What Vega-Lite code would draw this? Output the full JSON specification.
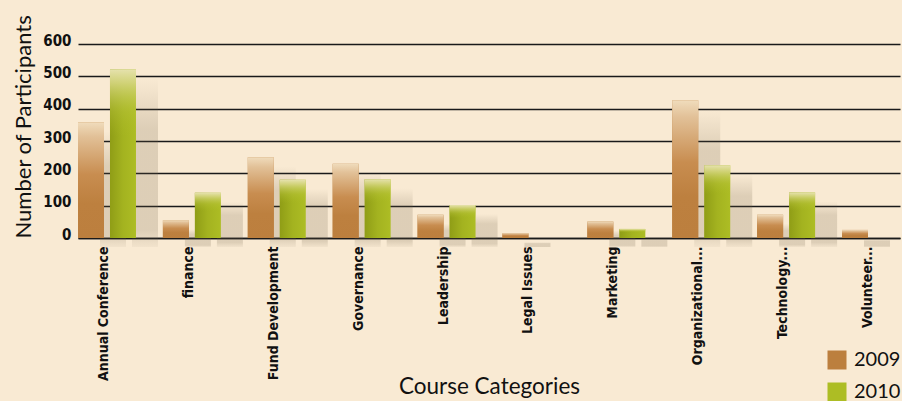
{
  "$schema": "https://vega.github.io/schema/vega-lite/v6.json",
  "autosize": {"type": "none"},
  "padding": {"left": 78, "top": 44, "right": 2, "bottom": 163},
  "width": 822,
  "height": 194,
  "background": "#f9ead3",
  "config": {"view": {"stroke": null}, "font": "Lato"},
  "data": {
    "values": [
      {"category": "Annual Conference", "year": "2009", "value": 358},
      {"category": "Annual Conference", "year": "2010", "value": 522},
      {"category": "finance", "year": "2009", "value": 55},
      {"category": "finance", "year": "2010", "value": 140},
      {"category": "Fund Development", "year": "2009", "value": 250},
      {"category": "Fund Development", "year": "2010", "value": 180},
      {"category": "Governance", "year": "2009", "value": 230},
      {"category": "Governance", "year": "2010", "value": 182},
      {"category": "Leadership", "year": "2009", "value": 72},
      {"category": "Leadership", "year": "2010", "value": 102},
      {"category": "Legal Issues", "year": "2009", "value": 15},
      {"category": "Legal Issues", "year": "2010", "value": 0},
      {"category": "Marketing", "year": "2009", "value": 51},
      {"category": "Marketing", "year": "2010", "value": 28},
      {"category": "Organizational...", "year": "2009", "value": 426},
      {"category": "Organizational...", "year": "2010", "value": 225},
      {"category": "Technology...", "year": "2009", "value": 72},
      {"category": "Technology...", "year": "2010", "value": 141},
      {"category": "Volunteer...", "year": "2009", "value": 25},
      {"category": "Volunteer...", "year": "2010", "value": 0}
    ]
  },
  "encoding": {
    "x": {
      "field": "category",
      "type": "nominal",
      "sort": null,
      "scale": {"paddingInner": 0.317, "paddingOuter": 0},
      "axis": {
        "title": "Course Categories",
        "labelAngle": -90,
        "labelAlign": "right",
        "labelBaseline": "middle",
        "labelFont": "'DejaVu Sans Condensed', 'Liberation Sans Narrow', sans-serif",
        "labelFontWeight": "bold",
        "labelFontSize": 14,
        "labelColor": "#111111",
        "labelPadding": 8,
        "labelOffset": -3,
        "labelLimit": 300,
        "ticks": false,
        "tickSize": 0,
        "domainColor": "#1a1a1a",
        "domainWidth": 1.5,
        "titleFont": "Lato",
        "titleFontWeight": "normal",
        "titleFontSize": 22.5,
        "titleColor": "#111111",
        "titleY": 155,
        "titleBaseline": "alphabetic"
      }
    },
    "xOffset": {
      "field": "year",
      "type": "nominal",
      "scale": {"domain": ["2009", "2010"], "paddingInner": 0.1875, "paddingOuter": 0}
    },
    "y": {
      "field": "value",
      "type": "quantitative",
      "scale": {"domain": [0, 600], "nice": false},
      "axis": {
        "title": "Number of Participants",
        "values": [0, 100, 200, 300, 400, 500, 600],
        "grid": true,
        "gridColor": "#1a1a1a",
        "gridWidth": 1.5,
        "domain": false,
        "ticks": false,
        "labelFont": "'DejaVu Sans Condensed', 'Liberation Sans Narrow', sans-serif",
        "labelFontWeight": "bold",
        "labelFontSize": 15,
        "labelColor": "#111111",
        "labelPadding": 7,
        "labelBaseline": "alphabetic",
        "labelOffset": 1,
        "titleFont": "Lato",
        "titleFontWeight": "normal",
        "titleFontSize": 22,
        "titleColor": "#111111",
        "titleAngle": -90,
        "titleX": -48,
        "titleY": 194,
        "titleAlign": "left",
        "titleBaseline": "alphabetic"
      }
    }
  },
  "layer": [
    {
      "transform": [{"filter": "datum.value > 0"}],
      "mark": {
        "type": "bar",
        "yOffset": 9,
        "y2Offset": 9,
        "fill": {
          "gradient": "linear",
          "x1": 0, "y1": 0, "x2": 0, "y2": 1,
          "stops": [
            {"offset": 0, "color": "rgba(110,95,70,0)"},
            {"offset": 0.3, "color": "rgba(110,95,70,0.2)"},
            {"offset": 0.9, "color": "rgba(110,95,70,0.2)"},
            {"offset": 1, "color": "rgba(110,95,70,0.05)"}
          ]
        }
      },
      "encoding": {
        "xOffset": {
          "field": "year",
          "type": "nominal",
          "scale": {"domain": ["2009", "2010"], "range": [22, 80], "paddingInner": 0.1875, "paddingOuter": 0}
        }
      }
    },
    {
      "mark": {"type": "bar"},
      "encoding": {
        "color": {
          "field": "year",
          "type": "nominal",
          "scale": {"domain": ["2009", "2010"], "range": ["#bc7f3e", "#adbd24"]},
          "legend": {
            "title": null,
            "orient": "none",
            "legendX": 749,
            "legendY": 306,
            "padding": 0,
            "symbolType": "square",
            "symbolSize": 361,
            "symbolStrokeWidth": 0,
            "symbolOpacity": 1,
            "labelFont": "Lato",
            "labelFontSize": 20,
            "labelColor": "#111111",
            "labelOffset": 7,
            "rowPadding": 12
          }
        }
      }
    },
    {
      "transform": [{"filter": "datum.year == '2009'"}],
      "mark": {
        "type": "bar",
        "fill": {
          "gradient": "linear",
          "x1": 0, "y1": 0, "x2": 0, "y2": 1,
          "stops": [
            {"offset": 0, "color": "#f0dcbc"},
            {"offset": 0.12, "color": "#e2c198"},
            {"offset": 0.45, "color": "#c88d50"},
            {"offset": 0.7, "color": "#bd803f"},
            {"offset": 1, "color": "#bc7f3e"}
          ]
        }
      }
    },
    {
      "transform": [{"filter": "datum.year == '2010'"}],
      "mark": {
        "type": "bar",
        "fill": {
          "gradient": "linear",
          "x1": 0, "y1": 0, "x2": 1, "y2": 0,
          "stops": [
            {"offset": 0, "color": "rgba(95,105,0,0.38)"},
            {"offset": 0.5, "color": "rgba(95,105,0,0.12)"},
            {"offset": 1, "color": "rgba(95,105,0,0)"}
          ]
        }
      }
    },
    {
      "transform": [{"filter": "datum.year == '2010'"}],
      "mark": {
        "type": "bar",
        "fill": {
          "gradient": "linear",
          "x1": 0, "y1": 0, "x2": 0, "y2": 1,
          "stops": [
            {"offset": 0, "color": "#e6e2ae"},
            {"offset": 0.08, "color": "rgba(214,214,130,0.9)"},
            {"offset": 0.25, "color": "rgba(185,196,60,0.4)"},
            {"offset": 0.4, "color": "rgba(173,189,36,0)"},
            {"offset": 1, "color": "rgba(173,189,36,0)"}
          ]
        }
      }
    }
  ],
  "resolve": {"scale": {"xOffset": "independent"}}
}
